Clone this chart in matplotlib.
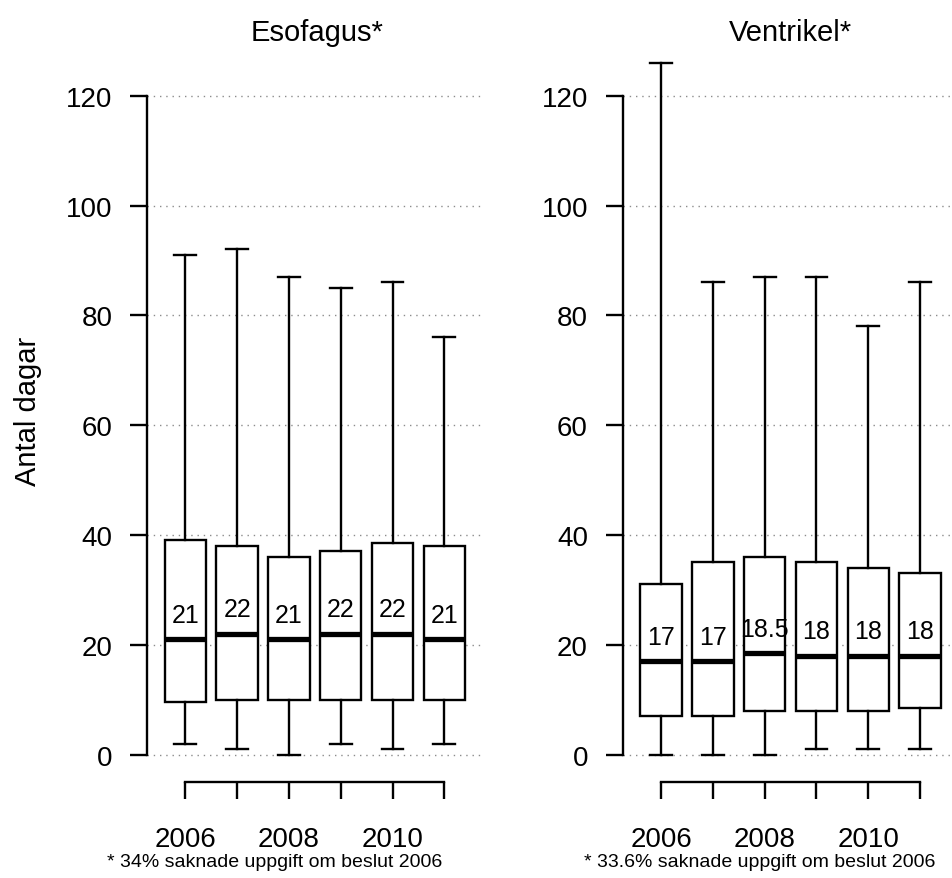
import matplotlib
matplotlib.use("Agg")
import matplotlib.pyplot as plt

plt.rcParams['font.family'] = ['Liberation Sans', 'DejaVu Sans']

years = [2006, 2007, 2008, 2009, 2010, 2011]
year_labels = ['2006', '', '2008', '', '2010', '']
y_ticks = [0, 20, 40, 60, 80, 100, 120]

# Esofagus: five-number summaries per year
eso_low = [2, 1, 0, 2, 1, 2]
eso_q1 = [9.5, 10, 10, 10, 10, 10]
eso_med = [21, 22, 21, 22, 22, 21]
eso_q3 = [39, 38, 36, 37, 38.5, 38]
eso_high = [91, 92, 87, 85, 86, 76]

# Ventrikel
ven_low = [0, 0, 0, 1, 1, 1]
ven_q1 = [7, 7, 8, 8, 8, 8.5]
ven_med = [17, 17, 18.5, 18, 18, 18]
ven_q3 = [31, 35, 36, 35, 34, 33]
ven_high = [126, 86, 87, 87, 78, 86]

titles = ['Esofagus*', 'Ventrikel*']
notes = ['* 34% saknade uppgift om beslut 2006',
         '* 33.6% saknade uppgift om beslut 2006']

W, H = 952, 879
fig = plt.figure(figsize=(W / 100, H / 100), dpi=100)
LW = 1.7


def make_stats(low, q1, med, q3, high):
    return [dict(whislo=a, q1=b, med=c, q3=d, whishi=e, fliers=[])
            for a, b, c, d, e in zip(low, q1, med, q3, high)]


def draw_panel(left_px, stats, medians, title, note, title_x, note_x):
    ax = fig.add_axes([left_px / W, (H - 783) / H, 335.7 / W, 746.7 / H])
    ax.set_xlim(2005.26, 2011.74)
    ax.set_ylim(-5.0, 131.0)

    for y in y_ticks:
        ax.axhline(y, color='#8c8c8c', lw=1.0, ls=(0, (1, 3.5)), zorder=0)

    ax.bxp(stats, positions=years, widths=0.8, capwidths=0.42,
           patch_artist=True, showfliers=False,
           boxprops=dict(facecolor='white', edgecolor='black', lw=LW),
           medianprops=dict(color='black', lw=3.8, solid_capstyle='butt'),
           whiskerprops=dict(color='black', lw=LW),
           capprops=dict(color='black', lw=LW),
           zorder=2)

    for x, m in zip(years, medians):
        ax.annotate(f'{m:g}', (x, m), xytext=(0, 12.5), textcoords='offset points',
                    ha='center', va='baseline', fontsize=18, zorder=3)

    for side in ['top', 'right']:
        ax.spines[side].set_visible(False)
    ax.spines['left'].set_bounds(0, 120)
    ax.spines['bottom'].set_bounds(2006, 2011)
    for side in ['left', 'bottom']:
        ax.spines[side].set_linewidth(LW)

    ax.set_yticks(y_ticks)
    ax.set_xticks(years)
    ax.set_xticklabels(year_labels)
    ax.tick_params(axis='y', length=12, width=LW, pad=13, labelsize=20)
    ax.tick_params(axis='x', length=12, width=LW, pad=19.5, labelsize=20)

    fig.text(title_x / W, 1 - 33 / H, title, ha='center', va='center', fontsize=21)
    fig.text(note_x / W, 1 - 863 / H, note, ha='center', va='center', fontsize=14)
    return ax


draw_panel(147.0, make_stats(eso_low, eso_q1, eso_med, eso_q3, eso_high),
           eso_med, titles[0], notes[0], 317, 275)
draw_panel(622.7, make_stats(ven_low, ven_q1, ven_med, ven_q3, ven_high),
           ven_med, titles[1], notes[1], 790, 760)

fig.text(28 / W, 1 - 411 / H, 'Antal dagar', rotation=90,
         ha='center', va='center', fontsize=21)

fig.savefig('out.png', dpi=100)
